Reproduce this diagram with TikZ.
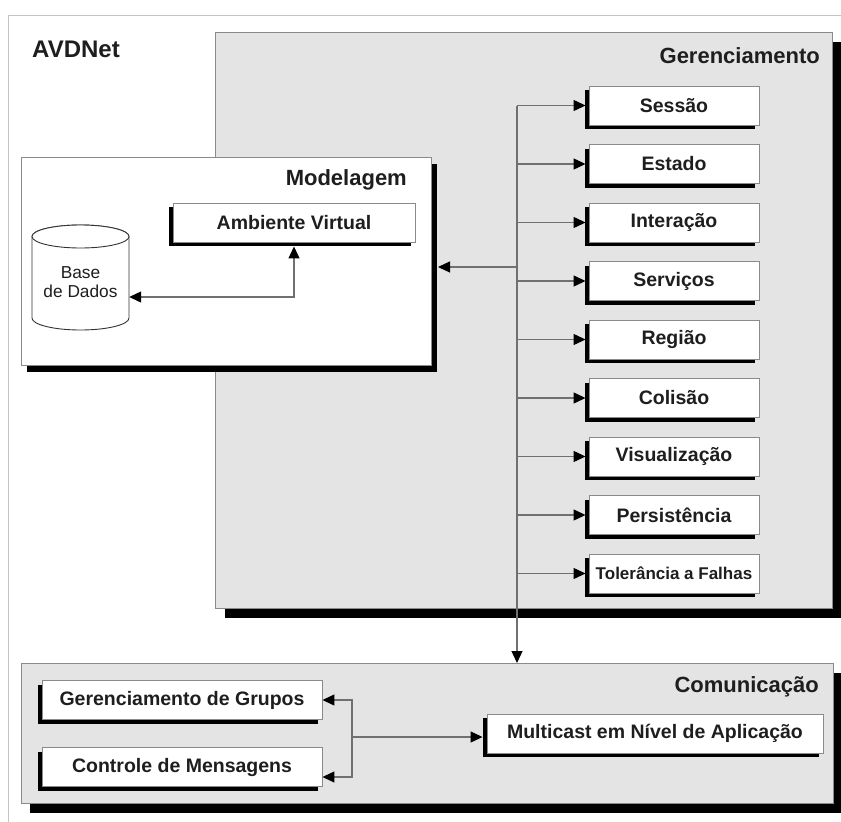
\documentclass[tikz,border=0pt]{standalone}
\usepackage{fontspec}
\setmainfont{Liberation Sans}
\usetikzlibrary{arrows.meta,shadows}
\definecolor{boxgray}{HTML}{E4E4E4}
\definecolor{edgegray}{HTML}{8A8A8A}
\definecolor{linegray}{HTML}{707070}
\definecolor{txt}{HTML}{1E1E1E}
\definecolor{framegray}{HTML}{C4C4C4}
\begin{document}
\begin{tikzpicture}[x=1pt,y=-1pt,
  panel/.style={draw=edgegray, line width=1pt, fill=boxgray, inner sep=0pt, anchor=north west},
  item/.style={draw=edgegray, line width=0.9pt, fill=white, inner sep=0pt,
    minimum height=39pt, text=txt, font=\fontsize{19.5}{22}\selectfont\bfseries,
    general shadow={fill=black, shadow xshift=-4pt, shadow yshift=-4pt}},
  gitem/.style={item, minimum width=170pt},
  title/.style={inner sep=0pt, anchor=base east, text=txt, font=\fontsize{22}{26}\selectfont\bfseries},
  arr/.style={draw=linegray, line width=1.2pt, -{Triangle[length=12pt,width=11pt,black]}},
  arrboth/.style={draw=linegray, line width=1.2pt, {Triangle[length=12pt,width=11pt,black]}-{Triangle[length=12pt,width=11pt,black]}},
  cyl/.style={draw=black!80, line width=0.9pt, fill=white}
]
\useasboundingbox (0,0) rectangle (841,822);
\fill[white] (0,0) rectangle (841,822);
\draw[framegray, line width=1pt] (8,822) -- (8,15) -- (841,15);
\node[inner sep=0pt, anchor=base west, text=txt, font=\fontsize{24}{28}\selectfont\bfseries] (tavd) at (32,57) {AVDNet};

% Gerenciamento panel
\node[panel, minimum width=617pt, minimum height=576pt,
  general shadow={fill=black, shadow xshift=9pt, shadow yshift=-9pt}] (ger) at (215,32) {};
\node[title] (tger) at (820,63) {Gerenciamento};

% Modelagem panel
\node[panel, fill=white, minimum width=410pt, minimum height=208pt,
  general shadow={fill=black, shadow xshift=5.5pt, shadow yshift=-6.5pt}] (model) at (21,157) {};
\node[title] (tmod) at (407,185) {Modelagem};
\node[item, minimum width=242pt] (av) at (294,222.5) {Ambiente Virtual};

% Base de Dados cylinder
\filldraw[cyl] (32,236.5) -- (32,318) arc[start angle=180, end angle=360, x radius=48.5pt, y radius=12pt]
  -- (129,236.5) arc[start angle=0, end angle=180, x radius=48.5pt, y radius=11.5pt] -- cycle;
\draw[cyl] (80.5,236.5) ellipse[x radius=48.5pt, y radius=11.5pt];
\node[inner sep=0pt, minimum width=97pt, minimum height=95pt, align=center, text=txt,
  font=\fontsize{17.3}{18.5}\selectfont] (db) at (80.5,282) {Base\\de Dados};
\draw[arrboth] ([yshift=-15pt]db.east) -| ([yshift=-4pt]av.south);

% Gerenciamento items
\node[gitem] (sessao) at (674,105.5) {Sessão};
\node[gitem] (estado) at (674,164) {Estado};
\node[gitem] (interacao) at (674,222.5) {Interação};
\node[gitem] (servicos) at (674,281) {Serviços};
\node[gitem] (regiao) at (674,339.5) {Região};
\node[gitem] (colisao) at (674,398) {Colisão};
\node[gitem] (visual) at (674,456.5) {Visualização};
\node[gitem] (persist) at (674,515) {Persistência};
\node[gitem, font=\fontsize{17}{20}\selectfont\bfseries] (toler) at (674,573.5) {Tolerância a Falhas};

% Comunicação panel
\node[panel, minimum width=812pt, minimum height=140pt,
  general shadow={fill=black, shadow xshift=8.5pt, shadow yshift=-9pt}] (com) at (21,663) {};
\node[title] (tcom) at (819,692) {Comunicação};
\node[item, minimum width=280pt] (gdg) at (182,700) {Gerenciamento de Grupos};
\node[item, minimum width=280pt] (cdm) at (182,767) {Controle de Mensagens};
\node[item, minimum width=336pt] (mult) at (655,733.5) {Multicast em Nível de Aplicação};

% bus
\coordinate (busx) at (517,0);
\coordinate (mj) at (517,267);
\draw[arr] (busx |- sessao.west) -- (busx |- com.north);
\foreach \b in {sessao,estado,interacao,servicos,regiao,colisao,visual,persist,toler}
  \draw[arr, shorten >=3pt] (busx |- \b.west) -- (\b.west);
\draw[arr] (mj) -- ([xshift=6pt]model.east |- mj);

% Comunicação connectors
\coordinate (br) at (352,737);
\draw[arr] (br) |- (gdg.east);
\draw[arr] (br) |- ([yshift=-10pt]cdm.east);
\draw[arr, shorten >=4pt] (br) -- (br -| mult.west);
\end{tikzpicture}
\end{document}
